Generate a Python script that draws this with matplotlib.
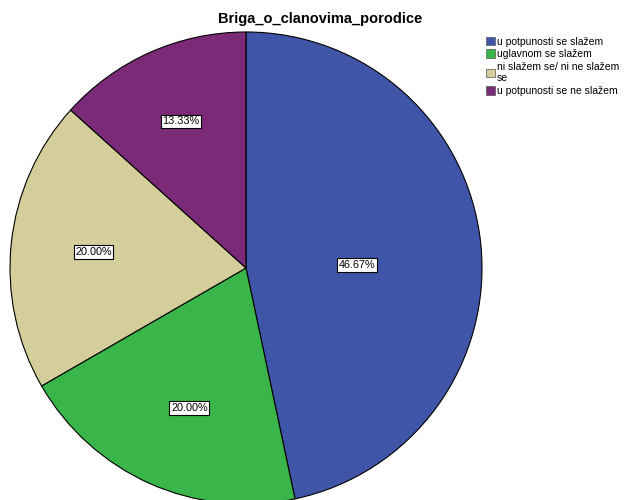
import matplotlib.pyplot as plt
from matplotlib.patches import Patch
import numpy as np

plt.rcParams['font.family'] = ['Liberation Sans', 'DejaVu Sans']

# data
categories = ['u potpunosti se slažem', 'uglavnom se slažem',
              'ni slažem se/ ni ne slažem\nse', 'u potpunosti se ne slažem']
values = [46.67, 20.00, 20.00, 13.33]
colors = ['#3F56A8', '#3AB54A', '#D4CE9A', '#7B2A78']
label_r = [0.47, 0.64, 0.65, 0.68]
label_shift = [-4.5, 2, 0, 0]   # degrees

fig = plt.figure(figsize=(6.27, 5.0), dpi=100)
ax = fig.add_axes([0, 0, 1, 1])

cx, cy, r = 246, 232, 236
wedges, _ = ax.pie(values, colors=colors, startangle=90, counterclock=False,
                   center=(cx, cy), radius=r, frame=True,
                   wedgeprops=dict(edgecolor='black', linewidth=0.8))
ax.set_xlim(0, 627)
ax.set_ylim(0, 500)
ax.set_aspect('equal')
ax.axis('off')

for w, v, lr, sh in zip(wedges, values, label_r, label_shift):
    ang = np.deg2rad((w.theta1 + w.theta2) / 2 + sh)
    x = cx + lr * r * np.cos(ang)
    y = cy + lr * r * np.sin(ang)
    ax.text(x, y, f'{v:.2f}%', ha='center', va='center', fontsize=7.8,
            bbox=dict(boxstyle='square,pad=0.15', fc='white', ec='black', lw=0.8))

ax.text(320, 481, 'Briga_o_clanovima_porodice', ha='center', va='center',
        fontsize=10.5, fontweight='bold')

handles = [Patch(facecolor=c, edgecolor='#555555', lw=0.5) for c in colors]
fig.legend(handles, categories, loc='upper left', bbox_to_anchor=(0.768, 0.935),
           frameon=False, fontsize=7.5, handlelength=0.9, handleheight=0.9,
           handletextpad=0.2, labelspacing=0.25, borderaxespad=0)

fig.savefig('out.png', dpi=100)
